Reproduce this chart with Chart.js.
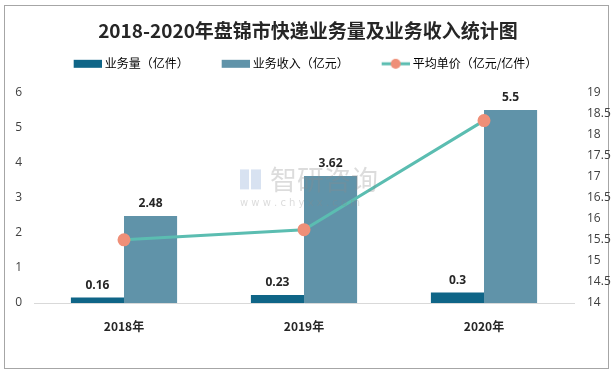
<!DOCTYPE html>
<html>
<head>
<meta charset="utf-8">
<script src="https://cdn.jsdelivr.net/npm/chart.js@4"></script>
<style>
  html, body { margin: 0; padding: 0; background: #fff; }
  .frame { position: absolute; left: 4px; top: 5px; width: 605px; height: 364px; border: 1px solid #a6a6a6; box-sizing: border-box; }
  .box { position: absolute; left: 0; top: 0; width: 616px; height: 373px; }
</style>
</head>
<body>
<div class="frame"></div>
<div class="box"><canvas id="chart" width="616" height="373"></canvas></div>
<script>
const years = ['2018年', '2019年', '2020年']
const volume = [0.16, 0.23, 0.3]          // 业务量（亿件）
const revenue = [2.48, 3.62, 5.5]         // 业务收入（亿元）
const unitPrice = [15.5, 15.74, 18.33]    // 平均单价（亿元/亿件）
const seriesNames = ['业务量（亿件）', '业务收入（亿元）', '平均单价（亿元/亿件）']
const titleText = '2018-2020年盘锦市快递业务量及业务收入统计图'

const darkBlue = '#0f6587'
const greyBlue = '#6093a9'
const lineColor = '#5bbdb1'
const dotColor = '#ef8f78'

// legend swatches, blank on the left acts as the gap between items
function swatch(kind){
    const c = document.createElement('canvas')
    c.width = 48; c.height = 12
    const g = c.getContext('2d')
    if(kind === 'line'){
        g.strokeStyle = lineColor; g.lineWidth = 3
        g.beginPath(); g.moveTo(20, 6); g.lineTo(48, 6); g.stroke()
        g.fillStyle = dotColor
        g.beginPath(); g.arc(34, 6, 5, 0, Math.PI*2); g.fill()
    } else {
        g.fillStyle = kind
        g.fillRect(20, 2, 28, 8)
    }
    return c
}

// push the plot area down below the legend, and nudge the legend left a bit
const legendGap = {
    id: 'legendGap',
    beforeLayout(chart){
        const lg = chart.legend
        if(lg && !lg._patched){
            const fit = lg.fit
            lg.fit = function(){ fit.call(this); this.height += 12.6 }
            lg._patched = true
        }
    },
    afterLayout(chart){
        const lg = chart.legend
        if(lg){ lg.left -= 11; lg.right -= 11 }
    }
}

const valueLabels = {
    id: 'valueLabels',
    afterDatasetsDraw(chart){
        const ctx = chart.ctx
        ctx.save()
        ctx.font = 'bold 12px "Open Sans", "Noto Sans", sans-serif'
        ctx.fillStyle = '#262626'
        ctx.textAlign = 'center'
        ctx.textBaseline = 'bottom'
        ;[1, 2].forEach(i => {
            const meta = chart.getDatasetMeta(i)
            meta.data.forEach((bar, j) => {
                ctx.fillText(String(chart.data.datasets[i].data[j]), bar.x, bar.y - 6)
            })
        })
        ctx.restore()
    }
}

const watermark = {
    id: 'watermark',
    afterDatasetsDraw(chart){
        const ctx = chart.ctx
        const a = chart.chartArea
        const x0 = a.left + 206
        const y0 = a.top + 77
        ctx.save()
        ctx.globalAlpha = 0.3
        ctx.fillStyle = '#7f9fd0'
        ctx.fillRect(x0, y0, 9, 20)
        ctx.fillRect(x0 + 11, y0, 10, 20)
        ctx.fillStyle = '#8c8c8c'
        ctx.font = '27px "Noto Sans CJK SC", sans-serif'
        ctx.textAlign = 'left'
        ctx.textBaseline = 'middle'
        ctx.fillText('智研咨询', x0 + 30, y0 + 10)
        ctx.font = '10px "DejaVu Sans", sans-serif'
        ctx.fillText('w w w . c h y x x . c o m', x0, y0 + 34)
        ctx.restore()
    }
}

const ctx = document.getElementById('chart').getContext('2d')
new Chart(ctx, {
    type: 'bar',
    data: {
        labels: years,
        datasets: [
            {
                type: 'line',
                label: seriesNames[2],
                data: unitPrice,
                yAxisID: 'y1',
                borderColor: lineColor,
                borderWidth: 3,
                pointBackgroundColor: dotColor,
                pointBorderColor: dotColor,
                pointRadius: 5,
                tension: 0,
                order: 0
            },
            {
                label: seriesNames[0],
                data: volume,
                backgroundColor: darkBlue,
                yAxisID: 'y',
                categoryPercentage: 0.59,
                barPercentage: 1,
                order: 1
            },
            {
                label: seriesNames[1],
                data: revenue,
                backgroundColor: greyBlue,
                yAxisID: 'y',
                categoryPercentage: 0.59,
                barPercentage: 1,
                order: 1
            }
        ]
    },
    options: {
        responsive: false,
        animation: false,
        layout: { padding: 0 },
        scales: {
            x: {
                grid: { display: false, drawTicks: false },
                border: { color: '#d9d9d9', width: 1 },
                ticks: { color: '#262626', padding: 16, font: { size: 12, weight: 'bold', family: '"Noto Sans CJK SC", sans-serif' } },
                afterFit(scale){ scale.height = 70 }
            },
            y: {
                position: 'left',
                min: 0, max: 6,
                grid: { display: false, drawTicks: false },
                border: { display: false },
                ticks: { stepSize: 1, color: '#404040', padding: 12, font: { size: 12, family: '"Open Sans", sans-serif' } },
                afterFit(scale){ scale.width = 34 }
            },
            y1: {
                position: 'right',
                min: 14, max: 19,
                grid: { display: false, drawTicks: false },
                border: { display: false },
                ticks: { stepSize: 0.5, color: '#404040', padding: 13, font: { size: 12, family: '"Open Sans", sans-serif' }, callback: v => String(v) },
                afterFit(scale){ scale.width = 42 }
            }
        },
        plugins: {
            title: {
                display: true,
                text: titleText,
                color: '#262626',
                font: { size: 19, weight: 'bold', family: '"Noto Sans CJK SC", sans-serif' },
                padding: { top: 19, bottom: 0 }
            },
            legend: {
                labels: {
                    usePointStyle: true,
                    pointStyleWidth: 42,
                    color: '#404040',
                    padding: 16,
                    font: { size: 12, family: '"Noto Sans CJK SC", sans-serif' },
                    generateLabels(chart){
                        return [
                            { text: seriesNames[0], pointStyle: swatch(darkBlue), datasetIndex: 1, lineWidth: 0 },
                            { text: seriesNames[1], pointStyle: swatch(greyBlue), datasetIndex: 2, lineWidth: 0 },
                            { text: seriesNames[2], pointStyle: swatch('line'), datasetIndex: 0, lineWidth: 0 }
                        ]
                    }
                }
            },
            tooltip: { enabled: false }
        }
    },
    plugins: [legendGap, valueLabels, watermark]
})
</script>
</body>
</html>
